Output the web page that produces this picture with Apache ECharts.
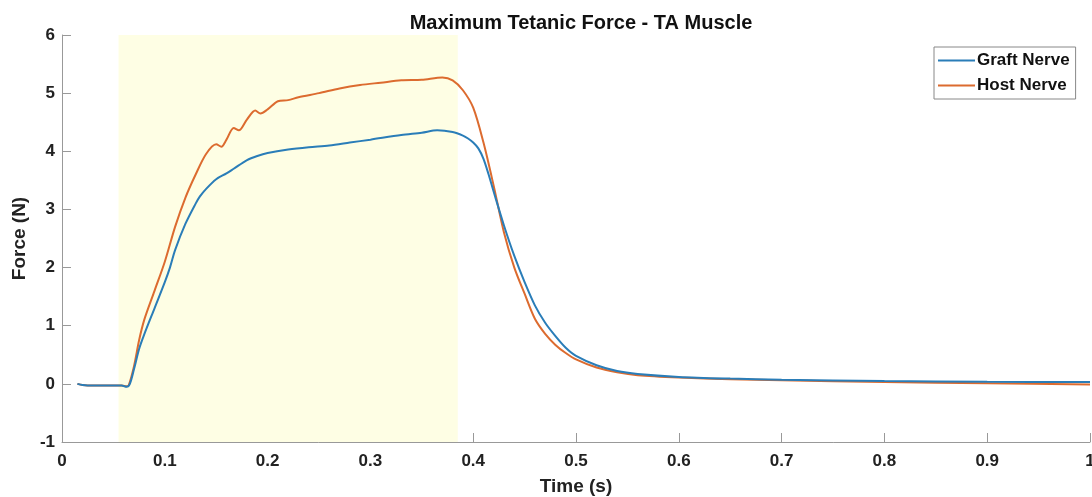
<!DOCTYPE html>
<html>
<head>
<meta charset="utf-8">
<script src="https://cdn.jsdelivr.net/npm/echarts@6/dist/echarts.min.js"></script>
<style>
  html, body { margin: 0; padding: 0; background: #fff; }
  #chart { width: 1092px; height: 497px; }
</style>
</head>
<body>
<div id="chart"></div>
<script>
// time (s) and force (N)
const graftTime = [0.015, 0.02, 0.03, 0.04, 0.05, 0.058, 0.063, 0.066, 0.07, 0.075, 0.08, 0.09, 0.1, 0.105, 0.11, 0.12, 0.13, 0.134, 0.14, 0.15, 0.16, 0.167, 0.18, 0.19, 0.2, 0.22, 0.24, 0.26, 0.28, 0.3, 0.33, 0.35, 0.365, 0.38, 0.39, 0.395, 0.4, 0.405, 0.41, 0.415, 0.42, 0.43, 0.44, 0.45, 0.46, 0.47, 0.48, 0.49, 0.5, 0.52, 0.54, 0.56, 0.6, 0.65, 0.7, 0.8, 0.9, 1.0]
const graftForce = [0.0, -0.02, -0.03, -0.03, -0.03, -0.03, -0.05, 0.0, 0.25, 0.6, 0.85, 1.3, 1.75, 2.0, 2.3, 2.75, 3.1, 3.22, 3.35, 3.52, 3.62, 3.7, 3.85, 3.92, 3.97, 4.03, 4.07, 4.1, 4.15, 4.2, 4.28, 4.32, 4.36, 4.33, 4.27, 4.22, 4.15, 4.05, 3.87, 3.6, 3.3, 2.72, 2.2, 1.75, 1.35, 1.05, 0.82, 0.62, 0.48, 0.32, 0.22, 0.17, 0.12, 0.09, 0.07, 0.05, 0.035, 0.03]

const hostTime = [0.015, 0.02, 0.03, 0.04, 0.05, 0.058, 0.063, 0.065, 0.07, 0.075, 0.08, 0.09, 0.1, 0.11, 0.12, 0.13, 0.14, 0.15, 0.155, 0.16, 0.167, 0.172, 0.18, 0.188, 0.193, 0.2, 0.21, 0.22, 0.23, 0.25, 0.27, 0.29, 0.31, 0.33, 0.35, 0.37, 0.38, 0.39, 0.4, 0.41, 0.42, 0.43, 0.44, 0.45, 0.46, 0.47, 0.48, 0.49, 0.5, 0.52, 0.54, 0.56, 0.6, 0.65, 0.7, 0.8, 0.9, 1.0]
const hostForce = [0.0, -0.02, -0.03, -0.03, -0.03, -0.03, -0.04, -0.02, 0.3, 0.75, 1.1, 1.6, 2.1, 2.7, 3.2, 3.6, 3.95, 4.12, 4.08, 4.2, 4.4, 4.36, 4.55, 4.7, 4.65, 4.72, 4.86, 4.88, 4.93, 5.0, 5.08, 5.14, 5.18, 5.22, 5.23, 5.27, 5.22, 5.05, 4.75, 4.15, 3.4, 2.6, 2.0, 1.55, 1.12, 0.86, 0.67, 0.53, 0.42, 0.28, 0.2, 0.15, 0.11, 0.08, 0.06, 0.03, 0.01, -0.01]

const shadeRange = [0.055, 0.385]

const zip = (xs, ys) => xs.map((x, i) => [x, ys[i]])

const myChart = echarts.init(document.getElementById('chart'))
const fontFamily = 'Liberation Sans, Arial, sans-serif'
const tickFont = { fontFamily, fontWeight: 'bold', fontSize: 17, color: '#222' }
const nameFont = { fontFamily, fontWeight: 'bold', fontSize: 19, color: '#222' }

const option = {
  animation: false,
  title: {
    text: 'Maximum Tetanic Force - TA Muscle',
    left: 576,
    textAlign: 'center',
    top: 8,
    textStyle: { fontFamily, fontWeight: 'bold', fontSize: 20, color: '#111' }
  },
  grid: { left: 62, right: 2, top: 35, bottom: 55, containLabel: false, outerBoundsMode: 'none' },
  legend: {
    orient: 'vertical',
    left: 934,
    top: 47,
    icon: 'rect',
    itemWidth: 37,
    itemHeight: 2,
    itemGap: 8,
    padding: [5, 6, 5, 4],
    borderColor: '#888',
    borderWidth: 1,
    backgroundColor: '#fff',
    textStyle: { fontFamily, fontWeight: 'bold', fontSize: 17, color: '#111', padding: [0, 0, 0, -3] },
    data: ['Graft Nerve', 'Host Nerve']
  },
  xAxis: {
    type: 'value',
    min: 0,
    max: 1,
    interval: 0.1,
    name: 'Time (s)',
    nameLocation: 'middle',
    nameGap: 35,
    nameTextStyle: nameFont,
    axisLine: { onZero: false, lineStyle: { color: '#999' } },
    axisTick: { inside: true, length: 9, lineStyle: { color: '#999' } },
    axisLabel: Object.assign({ margin: 11 }, tickFont),
    splitLine: { show: false }
  },
  yAxis: {
    type: 'value',
    min: -1,
    max: 6,
    interval: 1,
    name: 'Force (N)',
    nameLocation: 'middle',
    nameGap: 31,
    nameTextStyle: nameFont,
    axisLine: { show: true, onZero: false, lineStyle: { color: '#999' } },
    axisTick: { show: true, inside: true, length: 9, lineStyle: { color: '#999' } },
    axisLabel: Object.assign({ margin: 7 }, tickFont),
    splitLine: { show: false }
  },
  series: [
    {
      name: 'Graft Nerve',
      type: 'line',
      data: zip(graftTime, graftForce),
      smooth: 0.3,
      showSymbol: false,
      color: '#2a7db8',
      lineStyle: { width: 2 },
      z: 3,
      markArea: {
        silent: true,
        itemStyle: { color: '#fefee4' },
        data: [[{ xAxis: shadeRange[0], yAxis: -1 }, { xAxis: shadeRange[1], yAxis: 6 }]]
      }
    },
    {
      name: 'Host Nerve',
      type: 'line',
      data: zip(hostTime, hostForce),
      smooth: 0.3,
      showSymbol: false,
      color: '#dc6b2f',
      lineStyle: { width: 2 },
      z: 2
    }
  ]
}
myChart.setOption(option)
</script>
</body>
</html>
